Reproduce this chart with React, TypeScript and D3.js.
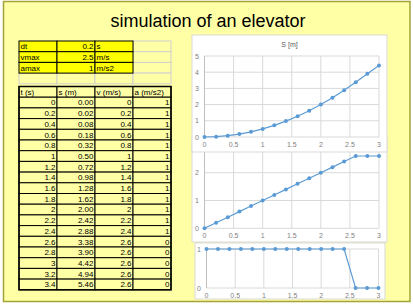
import * as d3 from 'd3'

// time steps shown in the table
const tValues = [0, 0.2, 0.4, 0.6, 0.8, 1, 1.2, 1.4, 1.6, 1.8, 2, 2.2, 2.4, 2.6, 2.8, 3, 3.2, 3.4]
const sValues = [0, 0.02, 0.08, 0.18, 0.32, 0.5, 0.72, 0.98, 1.28, 1.62, 2.0, 2.42, 2.88, 3.38, 3.9, 4.42, 4.94, 5.46]
const vValues = [0, 0.2, 0.4, 0.6, 0.8, 1, 1.2, 1.4, 1.6, 1.8, 2, 2.2, 2.4, 2.6, 2.6, 2.6, 2.6, 2.6]
const aValues = [1, 1, 1, 1, 1, 1, 1, 1, 1, 1, 1, 1, 1, 0, 0, 0, 0, 0]

const paramNames = ['dt', 'vmax', 'amax']
const paramValues = ['0.2', '2.5', '1']
const paramUnits = ['s', 'm/s', 'm/s2']
const headers = ['t (s)', 's (m)', 'v (m/s)', 'a (m/s2)']

const xTicks = [0, 0.5, 1, 1.5, 2, 2.5, 3]
const chartCount = 16 // charts stop at t = 3

const W = 413
const H = 308
const BG = '#ffffa6'
const LINE = '#5b9bd5'
const GRID = '#d9d9d9'
const LABEL = '#7f7f7f'

const colX = [19, 57, 95, 133, 171]
const rowH = 10.7
const paramTop = 41
const headTop = 86.5

type Box = { x: number; y: number; w: number; h: number }

const LineChart = ({ box, x0, x1, yZero, yTop, yMax, yTicks, values, title, labelX }: {
    box: Box; x0: number; x1: number; yZero: number; yTop: number; yMax: number
    yTicks: number[]; values: number[]; title?: string; labelX: number
}) => {
    const x = d3.scaleLinear().domain([0, 3]).range([x0, x1])
    const y = d3.scaleLinear().domain([0, yMax]).range([yZero, yTop])
    const pts = tValues.slice(0, chartCount).map((t, i) => [t, values[i]] as [number, number])
    const line = d3.line<[number, number]>().x(d => x(d[0])).y(d => y(d[1]))
    return (
        <g>
            <rect x={box.x} y={box.y} width={box.w} height={box.h} fill="#fff" stroke={GRID} strokeWidth={1} />
            {title && (
                <text x={box.x + box.w / 2} y={box.y + 12} textAnchor="middle" fontSize={7} fill="#595959">{title}</text>
            )}
            {yTicks.map(v => (
                <g key={'y' + v}>
                    <line x1={x0} x2={x1} y1={y(v)} y2={y(v)} stroke={GRID} strokeWidth={1} />
                    <text x={labelX} y={y(v) + 2.5} textAnchor="middle" fontSize={7} fill={LABEL}>{v}</text>
                </g>
            ))}
            {xTicks.map(v => (
                <g key={'x' + v}>
                    <line x1={x(v)} x2={x(v)} y1={y(yMax)} y2={yZero} stroke={v === 0 ? '#bfbfbf' : GRID} strokeWidth={1} />
                    <text x={x(v)} y={yZero + 10} textAnchor="middle" fontSize={7} fill={LABEL}>{v}</text>
                </g>
            ))}
            <path d={line(pts) || ''} fill="none" stroke={LINE} strokeWidth={1.2} />
            {pts.map((d, i) => (
                <circle key={i} cx={x(d[0])} cy={y(d[1])} r={2} fill={LINE} />
            ))}
        </g>
    )
}

const Cell = ({ col, top, text, align, fill, stroke }: {
    col: number; top: number; text: string; align: 'start' | 'end'; fill: string; stroke: string
}) => {
    const x = colX[col]
    const w = colX[col + 1] - colX[col]
    return (
        <g>
            <rect x={x} y={top} width={w} height={rowH} fill={fill} stroke={stroke} strokeWidth={1} />
            <text x={align === 'end' ? x + w - 1.5 : x + 1.5} y={top + rowH - 2.5} textAnchor={align}
                fontSize={8} fill="#000">{text}</text>
        </g>
    )
}

export default function App() {
    const dataTop = headTop + rowH
    return (
        <svg width={W} height={H} style={{ position: 'absolute', left: 0, top: 0 }}
            fontFamily="'Liberation Sans', Arial, sans-serif">
            <rect x={0} y={0} width={W} height={H} fill="#fff" />
            <rect x={3.5} y={1.5} width={406.5} height={300} fill={BG} stroke="#a3a33a" strokeWidth={1.5} />
            <text x={208} y={27} textAnchor="middle" fontSize={18} fill="#000">simulation of an elevator</text>

            {/* parameter block */}
            {[0, 1, 2].map(r => (
                <Cell key={'p' + r} col={3} top={paramTop + r * rowH} text="" align="start" fill={BG} stroke="#d0d0d0" />
            ))}
            {[0, 1, 2, 3].map(c => (
                <Cell key={'e' + c} col={c} top={paramTop + 3 * rowH} text="" align="start" fill={BG} stroke="#d0d0d0" />
            ))}
            {paramNames.map((n, r) => (
                <g key={'q' + r}>
                    <Cell col={0} top={paramTop + r * rowH} text={n} align="start" fill="#ffff00" stroke="#000" />
                    <Cell col={1} top={paramTop + r * rowH} text={paramValues[r]} align="end" fill="#ffff00" stroke="#000" />
                    <Cell col={2} top={paramTop + r * rowH} text={paramUnits[r]} align="start" fill="#ffff00" stroke="#000" />
                </g>
            ))}

            {/* simulation table */}
            {headers.map((h, c) => (
                <Cell key={'h' + c} col={c} top={headTop} text={h} align="start" fill={BG} stroke="#000" />
            ))}
            {tValues.map((t, i) => (
                <g key={'r' + i}>
                    <Cell col={0} top={dataTop + i * rowH} text={String(t)} align="end" fill={BG} stroke="#000" />
                    <Cell col={1} top={dataTop + i * rowH} text={sValues[i].toFixed(2)} align="end" fill={BG} stroke="#000" />
                    <Cell col={2} top={dataTop + i * rowH} text={String(vValues[i])} align="end" fill={BG} stroke="#000" />
                    <Cell col={3} top={dataTop + i * rowH} text={String(aValues[i])} align="end" fill={BG} stroke="#000" />
                </g>
            ))}
            <rect x={colX[0]} y={headTop} width={colX[4] - colX[0]} height={19 * rowH}
                fill="none" stroke="#000" strokeWidth={1.5} />

            {/* charts: velocity sits under the distance chart */}
            <LineChart box={{ x: 192, y: 138, w: 195, h: 104 }} x0={204.5} x1={379} yZero={228.3} yTop={144.9}
                yMax={3} yTicks={[0, 1, 2, 3]} values={vValues} labelX={197} />
            <LineChart box={{ x: 192, y: 35, w: 195, h: 117 }} x0={204.5} x1={379} yZero={137} yTop={56}
                yMax={5} yTicks={[0, 1, 2, 3, 4, 5]} values={sValues} title="S [m]" labelX={197} />
            <LineChart box={{ x: 195, y: 243, w: 190, h: 56 }} x0={206.5} x1={378.5} yZero={288} yTop={249}
                yMax={1} yTicks={[0, 1]} values={aValues} labelX={199} />
        </svg>
    )
}
